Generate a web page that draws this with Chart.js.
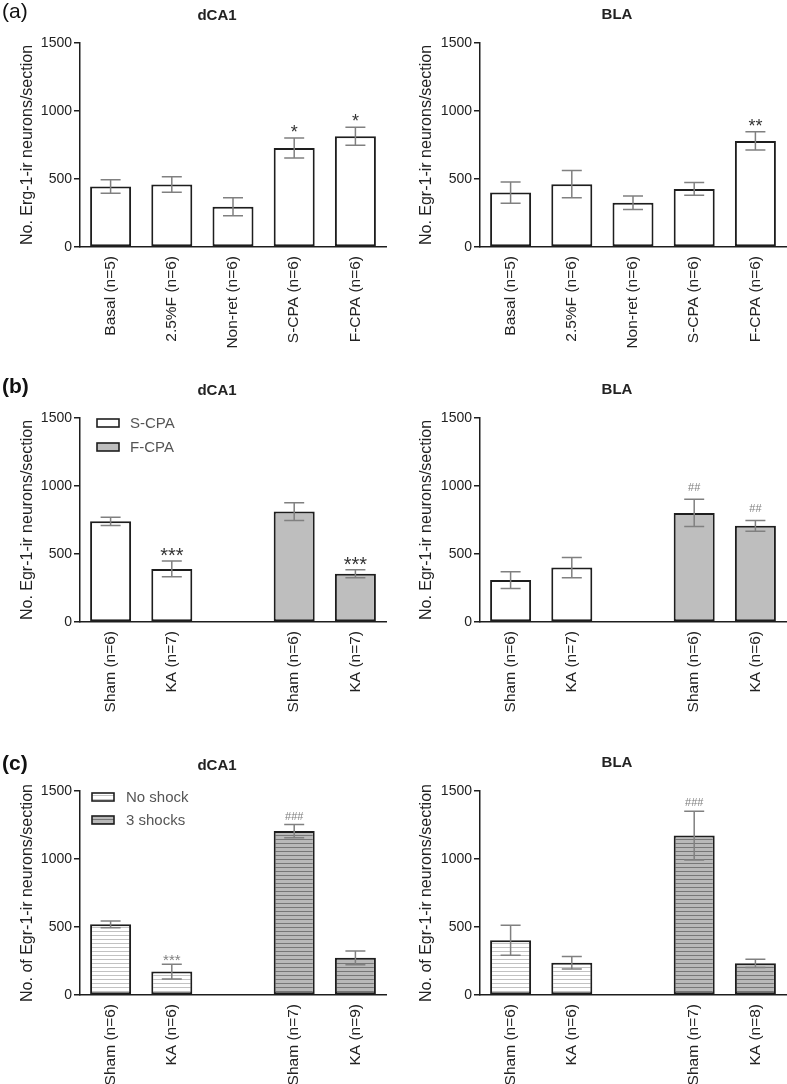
<!DOCTYPE html>
<html><head><meta charset="utf-8">
<script src="https://cdn.jsdelivr.net/npm/chart.js@4.4.1/dist/chart.umd.min.js"></script>
<style>
html,body{margin:0;padding:0;background:#fff;}
#wrap{position:relative;width:787px;height:1084px;overflow:hidden;background:#fff;}
canvas{position:absolute;}
</style></head><body><div id="wrap">
<canvas id="a1" width="393" height="370" style="left:0;top:0"></canvas>
<canvas id="a2" width="394" height="370" style="left:393px;top:0"></canvas>
<canvas id="b1" width="393" height="350" style="left:0;top:370px"></canvas>
<canvas id="b2" width="394" height="350" style="left:393px;top:370px"></canvas>
<canvas id="c1" width="393" height="364" style="left:0;top:720px"></canvas>
<canvas id="c2" width="394" height="364" style="left:393px;top:720px"></canvas>
</div>
<script>
// ---------- DATA ----------
const yTickValues = [0, 500, 1000, 1500];
const yTickLabels = ['0', '500', '1000', '1500'];

const aLabels = ['Basal (n=5)', '2.5%F (n=6)', 'Non-ret (n=6)', 'S-CPA (n=6)', 'F-CPA (n=6)'];
const aDca1Mean = [445, 460, 296, 728, 815];
const aDca1Err  = [50, 57, 67, 73, 66];
const aDca1Sig  = ['', '', '', '*', '*'];
const aBlaMean  = [400, 462, 325, 427, 780];
const aBlaErr   = [78, 100, 50, 47, 67];
const aBlaSig   = ['', '', '', '', '**'];

const bDca1Labels = ['Sham (n=6)', 'KA (n=7)', '', 'Sham (n=6)', 'KA (n=7)'];
const bDca1SCPA = [740, 390, null, null, null];
const bDca1FCPA = [null, null, null, 812, 355];
const bDca1Err  = [30, 58, null, 65, 30];
const bDca1Sig  = ['', '***', '', '', '***'];
const bBlaLabels = ['Sham (n=6)', 'KA (n=7)', '', 'Sham (n=6)', 'KA (n=6)'];
const bBlaSCPA = [308, 400, null, null, null];
const bBlaFCPA = [null, null, null, 802, 707];
const bBlaErr  = [62, 74, null, 100, 40];
const bBlaSig  = ['', '', '', '##', '##'];

const cDca1Labels = ['Sham (n=6)', 'KA (n=6)', '', 'Sham (n=7)', 'KA (n=9)'];
const cDca1NoShock = [520, 172, null, null, null];
const cDca1Shock   = [null, null, null, 1205, 273];
const cDca1Err     = [25, 55, null, 48, 50];
const cDca1Sig     = ['', '***', '', '###', ''];
const cBlaLabels = ['Sham (n=6)', 'KA (n=6)', '', 'Sham (n=7)', 'KA (n=8)'];
const cBlaNoShock = [402, 238, null, null, null];
const cBlaShock   = [null, null, null, 1172, 233];
const cBlaErr     = [110, 46, null, 180, 30];
const cBlaSig     = ['', '', '', '###', ''];

const legendB = ['S-CPA', 'F-CPA'];
const legendC = ['No shock', '3 shocks'];
const regionTitles = ['dCA1', 'BLA'];
const panelLabels = ['(a)', '(b)', '(c)'];
const yTitleErg = 'No. Erg-1-ir neurons/section';
const yTitleEgr = 'No. Egr-1-ir neurons/section';
const yTitleOf  = 'No. of Egr-1-ir neurons/section';

// ---------- STYLE ----------
const FONT = "'Liberation Sans', Arial, Helvetica, sans-serif";
Chart.defaults.font.family = FONT;
Chart.defaults.color = '#222';
Chart.defaults.animation = false;
const INK = '#1e1e1e';

function stripes(bg, line) {
  const c = document.createElement('canvas');
  c.width = 4; c.height = 4;
  const x = c.getContext('2d');
  x.fillStyle = bg; x.fillRect(0, 0, 4, 4);
  x.fillStyle = line; x.fillRect(0, 3, 4, 1);
  return x.createPattern(c, 'repeat');
}
const WHITE = '#ffffff';
const GREY = '#bebebe';
const HATCH_W = stripes('#ffffff', '#c2c2c2');
const HATCH_G = stripes('#b9b9b9', '#777777');

// ---------- PLUGINS ----------
const errorBars = {
  id: 'errorBars',
  afterDatasetsDraw(chart, args, o) {
    if (!o.err) return;
    const ctx = chart.ctx, y = chart.scales.y;
    ctx.save();
    chart.data.datasets.forEach((ds, di) => {
      const meta = chart.getDatasetMeta(di);
      ds.data.forEach((v, i) => {
        if (v == null || o.err[i] == null) return;
        const x = meta.data[i].x;
        const yt = y.getPixelForValue(v + o.err[i]);
        const yb = y.getPixelForValue(v - o.err[i]);
        const hw = 10;
        ctx.strokeStyle = '#808080';
        ctx.lineWidth = 1.5;
        ctx.beginPath();
        ctx.moveTo(x, yt); ctx.lineTo(x, yb);
        ctx.moveTo(x - hw, yt); ctx.lineTo(x + hw, yt);
        ctx.moveTo(x - hw, yb); ctx.lineTo(x + hw, yb);
        ctx.stroke();
        const s = o.sig && o.sig[i];
        if (s) {
          const star = s.indexOf('*') >= 0;
          ctx.font = (star ? o.starSize : o.hashSize) + 'px ' + FONT;
          ctx.fillStyle = star ? o.starColor : o.hashColor;
          ctx.textAlign = 'center';
          ctx.textBaseline = 'alphabetic';
          ctx.fillText(s, x, yt - (star ? o.starGap : o.hashGap));
        }
      });
    });
    ctx.restore();
  }
};

const decor = {
  id: 'decor',
  afterDraw(chart, args, o) {
    const ctx = chart.ctx, a = chart.chartArea;
    ctx.save();
    if (o.title) {
      ctx.font = 'bold 15px ' + FONT;
      ctx.fillStyle = '#222';
      ctx.textAlign = 'center';
      ctx.textBaseline = 'alphabetic';
      ctx.fillText(o.title, (a.left + a.right) / 2 - 16, o.titleY);
    }
    if (o.panel) {
      ctx.font = (o.panelBold ? 'bold ' : '') + '21px ' + FONT;
      ctx.fillStyle = '#111';
      ctx.textAlign = 'left';
      ctx.textBaseline = 'alphabetic';
      ctx.fillText(o.panel, 2, o.panelY);
    }
    if (o.legend) {
      chart.data.datasets.forEach((ds, i) => {
        const yc = a.top + o.legend.dy + i * o.legend.gap;
        const x = a.left + o.legend.dx;
        ctx.fillStyle = ds.backgroundColor;
        ctx.fillRect(x, yc - 4, 22, 8);
        ctx.strokeStyle = INK; ctx.lineWidth = 1.6;
        ctx.strokeRect(x, yc - 4, 22, 8);
        ctx.fillStyle = '#555';
        ctx.font = '15px ' + FONT;
        ctx.textAlign = 'left';
        ctx.textBaseline = 'middle';
        ctx.fillText(ds.label, a.left + o.legend.textDx, yc + 1);
      });
    }
    ctx.restore();
  }
};

// ---------- BUILDER ----------
function build(id, c) {
  const canvas = document.getElementById(id);
  const H = canvas.height;
  const datasets = c.series.map(s => ({
    label: s.label, data: s.data,
    backgroundColor: s.fill, borderColor: INK, borderWidth: 2,
    borderSkipped: false, grouped: false,
    barPercentage: 0.67, categoryPercentage: 1.0
  }));
  new Chart(canvas, {
    type: 'bar',
    data: { labels: c.labels, datasets },
    options: {
      responsive: false,
      layout: { padding: { top: c.top, right: c.right, left: 0, bottom: 0 } },
      plugins: {
        legend: { display: false },
        tooltip: { enabled: false },
        errorBars: { err: c.err, sig: c.sig, starSize: c.starSize, starColor: c.starColor, starGap: c.starGap,
                     hashSize: 11, hashColor: '#808080', hashGap: c.hashGap },
        decor: { title: c.title, titleY: c.titleY, panel: c.panel, panelY: c.panelY, panelBold: c.panelBold, legend: c.legend }
      },
      scales: {
        x: {
          type: 'category', offset: true,
          grid: { display: false },
          border: { display: true, color: INK, width: 1.5 },
          ticks: { autoSkip: false, maxRotation: 90, minRotation: 90, padding: 1, font: { size: 15.5 }, color: '#222' },
          afterFit: s => { s.height = H - c.bottom; }
        },
        y: {
          min: 0, max: 1500,
          afterBuildTicks: s => { s.ticks = yTickValues.map(v => ({ value: v })); },
          grid: { display: true, drawOnChartArea: false, drawTicks: true, tickLength: 6, color: INK, lineWidth: 1.5 },
          border: { display: true, color: INK, width: 1.5 },
          ticks: { padding: 2, font: { size: 14 }, color: '#222',
                   callback: (v) => yTickLabels[yTickValues.indexOf(v)] },
          title: { display: true, text: c.yTitle, font: { size: 16 }, color: '#222', padding: { top: c.yTitlePad, bottom: 0 } },
          afterFit: s => { s.width = c.yWidth; }
        }
      }
    },
    plugins: [errorBars, decor]
  });
}

const L = { yWidth: 80, right: 7, yTitlePad: 18 };
const R = { yWidth: 87, right: 1, yTitlePad: 24 };

build('a1', Object.assign({}, L, {
  labels: aLabels, series: [{ label: '', data: aDca1Mean, fill: WHITE }],
  err: aDca1Err, sig: aDca1Sig, starSize: 18, starColor: '#333', starGap: 0, hashGap: 6,
  top: 43, bottom: 247, title: regionTitles[0], titleY: 20, panel: panelLabels[0], panelY: 18, panelBold: false,
  yTitle: yTitleErg
}));
build('a2', Object.assign({}, R, {
  labels: aLabels, series: [{ label: '', data: aBlaMean, fill: WHITE }],
  err: aBlaErr, sig: aBlaSig, starSize: 18, starColor: '#333', starGap: 0, hashGap: 6,
  top: 43, bottom: 247, title: regionTitles[1], titleY: 19,
  yTitle: yTitleEgr
}));
build('b1', Object.assign({}, L, {
  labels: bDca1Labels, series: [{ label: legendB[0], data: bDca1SCPA, fill: WHITE }, { label: legendB[1], data: bDca1FCPA, fill: GREY }],
  err: bDca1Err, sig: bDca1Sig, starSize: 20, starColor: '#333', starGap: -1, hashGap: 8,
  top: 48, bottom: 252, title: regionTitles[0], titleY: 25, panel: panelLabels[1], panelY: 23, panelBold: true,
  legend: { dx: 17, dy: 5, gap: 24, textDx: 50 },
  yTitle: yTitleEgr
}));
build('b2', Object.assign({}, R, {
  labels: bBlaLabels, series: [{ label: legendB[0], data: bBlaSCPA, fill: WHITE }, { label: legendB[1], data: bBlaFCPA, fill: GREY }],
  err: bBlaErr, sig: bBlaSig, starSize: 20, starColor: '#333', starGap: -1, hashGap: 8,
  top: 48, bottom: 252, title: regionTitles[1], titleY: 24,
  yTitle: yTitleEgr
}));
build('c1', Object.assign({}, L, {
  labels: cDca1Labels, series: [{ label: legendC[0], data: cDca1NoShock, fill: HATCH_W }, { label: legendC[1], data: cDca1Shock, fill: HATCH_G }],
  err: cDca1Err, sig: cDca1Sig, starSize: 15, starColor: '#808080', starGap: -1, hashGap: 5,
  top: 71, bottom: 275, title: regionTitles[0], titleY: 50, panel: panelLabels[2], panelY: 50, panelBold: true,
  legend: { dx: 12, dy: 6, gap: 23, textDx: 46 },
  yTitle: yTitleOf
}));
build('c2', Object.assign({}, R, {
  labels: cBlaLabels, series: [{ label: legendC[0], data: cBlaNoShock, fill: HATCH_W }, { label: legendC[1], data: cBlaShock, fill: HATCH_G }],
  err: cBlaErr, sig: cBlaSig, starSize: 15, starColor: '#808080', starGap: -1, hashGap: 5,
  top: 71, bottom: 275, title: regionTitles[1], titleY: 47,
  yTitle: yTitleOf
}));
</script>
</body></html>
